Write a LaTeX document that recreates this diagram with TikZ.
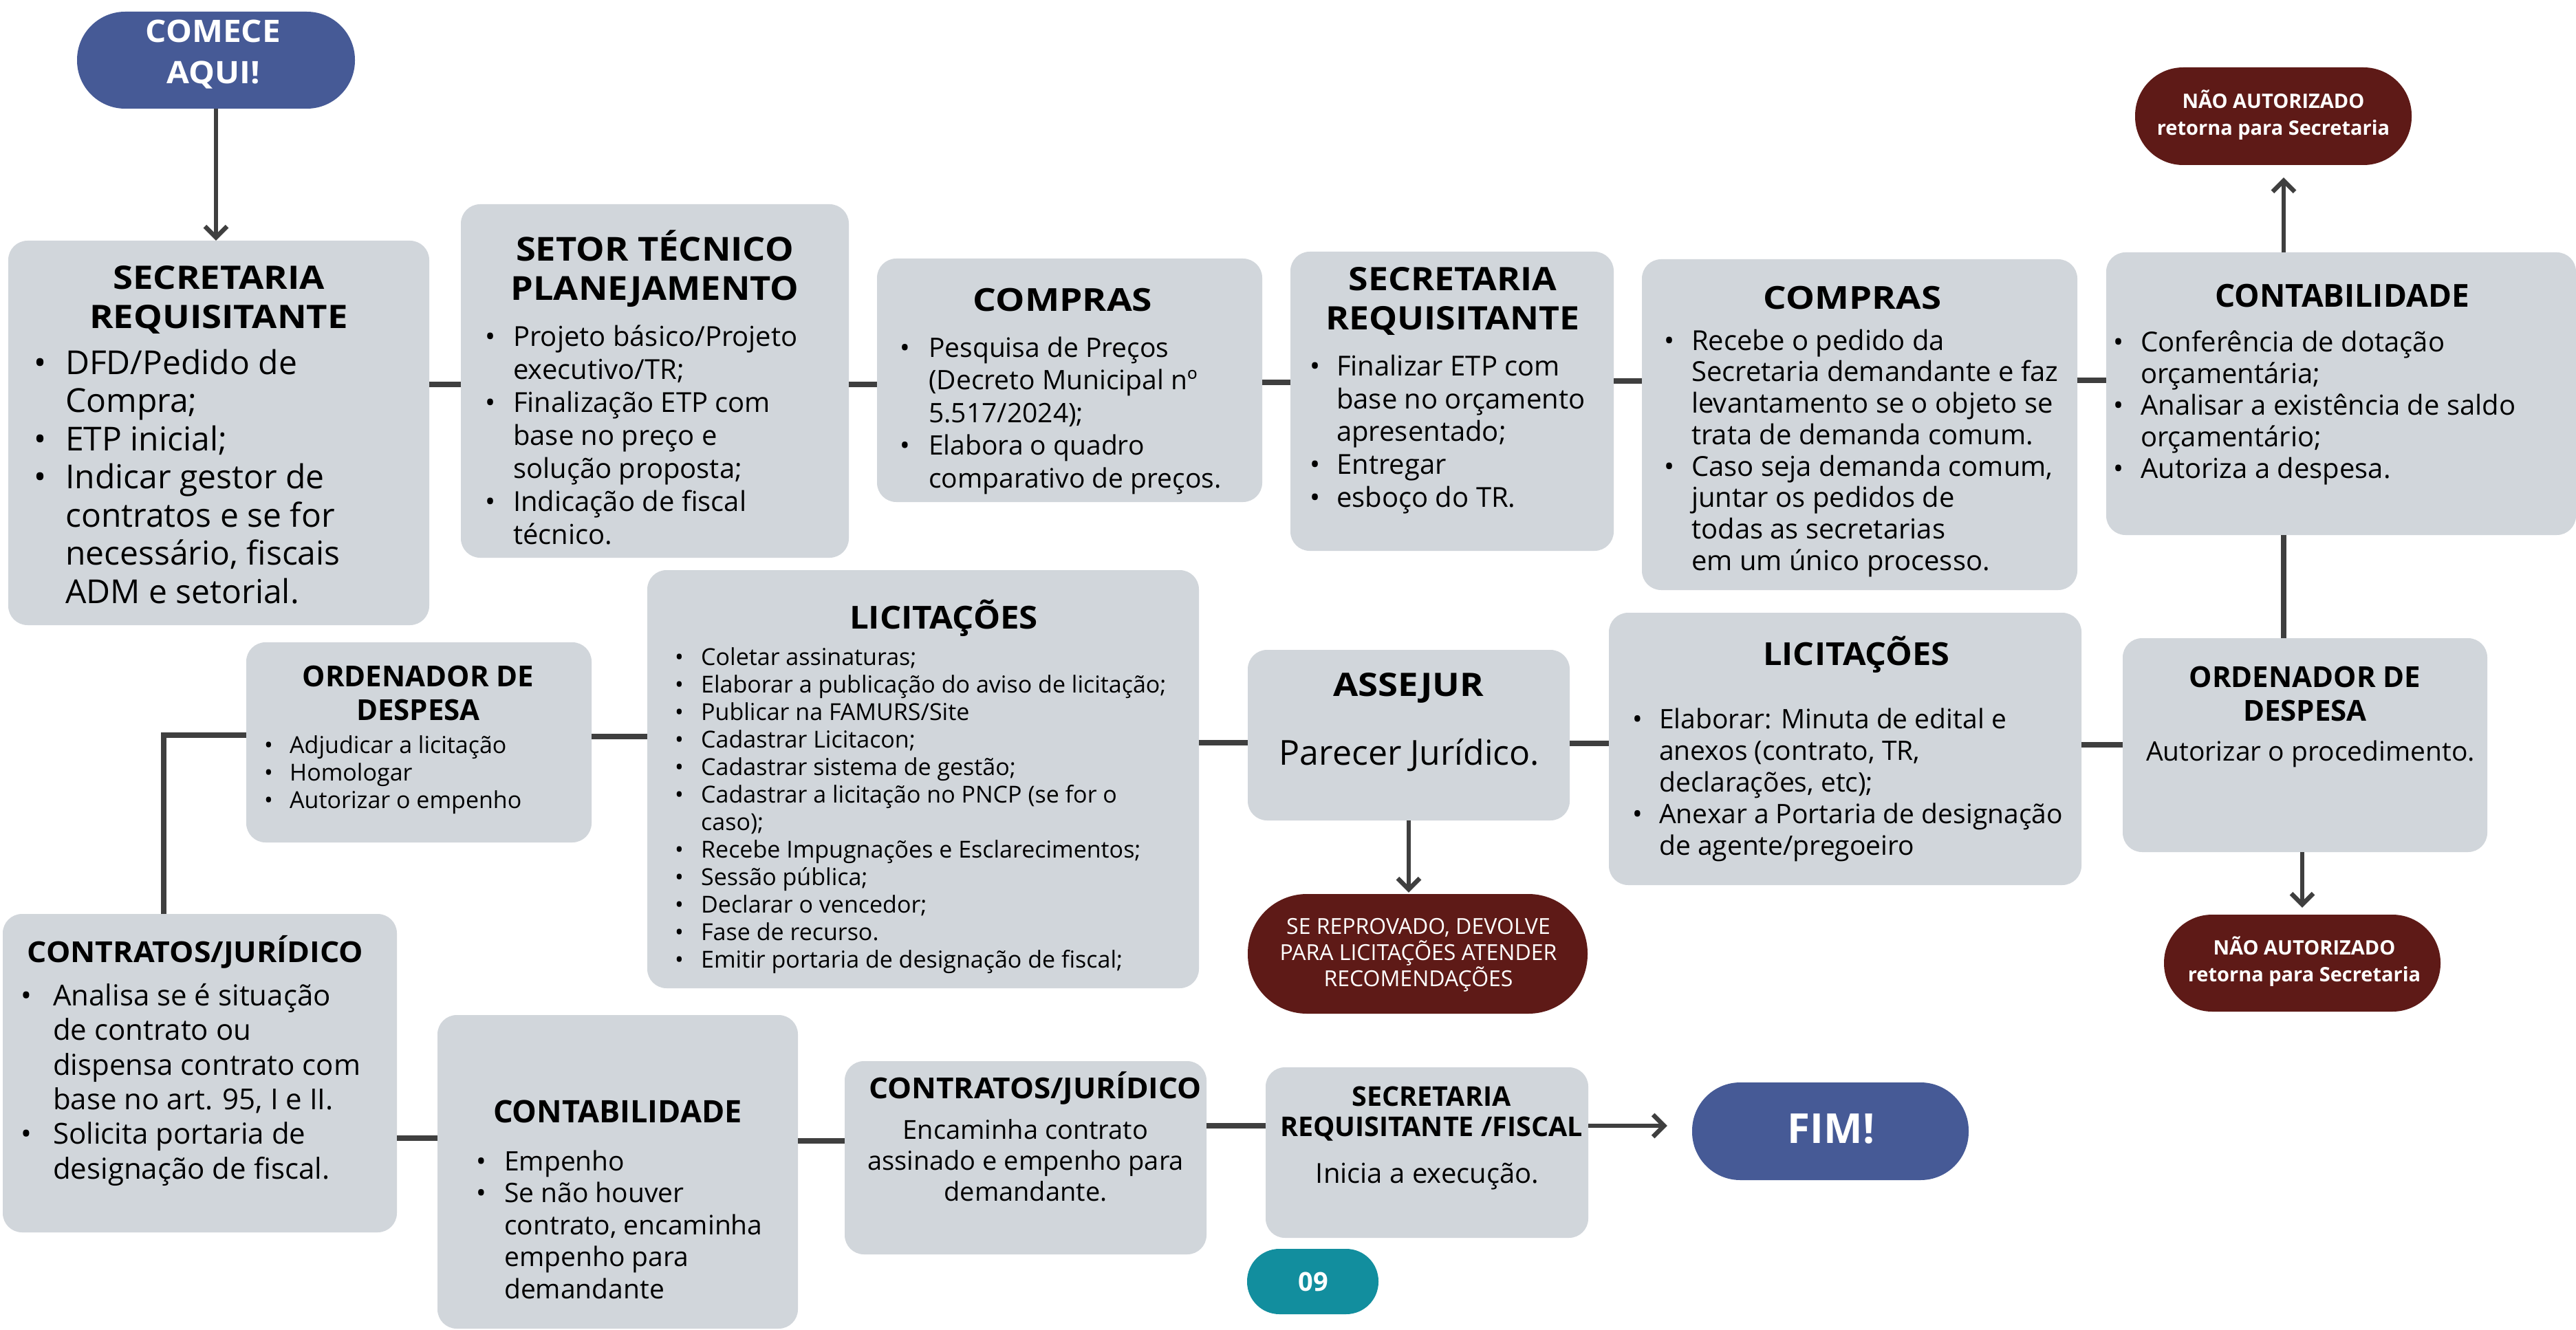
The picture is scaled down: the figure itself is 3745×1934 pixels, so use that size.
\documentclass[tikz,border=0pt]{standalone}
\usepackage{fontspec}
\setmainfont{Open Sans}
\usetikzlibrary{arrows.meta,calc}
\definecolor{boxg}{HTML}{D1D6DB}
\definecolor{pblue}{HTML}{465A96}
\definecolor{pred}{HTML}{5E1A17}
\definecolor{pteal}{HTML}{128E9E}
\definecolor{lin}{HTML}{3F3F3F}
\newlength\bw
\newcommand\fs[2]{\fontsize{#1pt}{#2pt}\selectfont}
\newcommand\bst[1]{\bfseries\addfontfeatures{FakeStretch=#1}}
\newcommand\tsu{\rule{0pt}{1.2em}}
\newcommand\bu{\makebox[\bw][l]{•}}
\newcommand\ct{\hspace*{\bw}}
\tikzset{
 box/.style={fill=boxg, rounded corners=28pt, inner sep=0pt, draw=none},
 con/.style={draw=lin, line width=8pt},
 arr/.style={draw=lin, line width=6.5pt, -{Straight Barb[length=16pt,width=32pt]}},
 tl/.style={anchor=north west, inner sep=0pt, align=left},
 tc/.style={anchor=north, inner sep=0pt, align=center},
}
\begin{document}
\begin{tikzpicture}[x=1pt,y=-1pt]
\useasboundingbox[fill=white] (0,0) rectangle (3745,1934);
% ---------- boxes ----------
\node[box, minimum width=612pt, minimum height=559pt] (b1) at (318,629.5) {};
\node[box, minimum width=564pt, minimum height=514pt] (b2) at (952,554) {};
\node[box, minimum width=560pt, minimum height=354pt] (b3) at (1555,553) {};
\node[box, minimum width=470pt, minimum height=435pt] (b4) at (2111,583.5) {};
\node[box, minimum width=633pt, minimum height=481pt] (b5) at (2703.5,617.5) {};
\node[box, minimum width=683pt, minimum height=411pt] (b6) at (3403.5,572.5) {};
\node[box, minimum width=530pt, minimum height=311pt] (b8) at (3351,1083.5) {};
\node[box, minimum width=687pt, minimum height=396pt] (b9) at (2682.5,1089) {};
\node[box, minimum width=468pt, minimum height=248pt] (b10) at (2048,1069) {};
\node[box, minimum width=802pt, minimum height=608pt] (b11) at (1342,1133) {};
\node[box, minimum width=502pt, minimum height=291pt] (b12) at (609,1079.5) {};
\node[box, minimum width=573pt, minimum height=463pt] (b13) at (290.5,1560.5) {};
\node[box, minimum width=524pt, minimum height=456pt] (b14) at (898,1704) {};
\node[box, minimum width=526pt, minimum height=281pt] (b15) at (1491,1683.5) {};
\node[box, minimum width=469pt, minimum height=248pt] (b16) at (2074.5,1676) {};
% ---------- pills ----------
\node[fill=pblue, rounded corners=70pt, minimum width=404pt, minimum height=141pt, inner sep=0pt] (n0) at (314,87.5) {};
\node[fill=pred, rounded corners=70pt, minimum width=402pt, minimum height=142pt, inner sep=0pt] (n1) at (3305,169) {};
\node[fill=pred, rounded corners=70pt, minimum width=402pt, minimum height=141pt, inner sep=0pt] (n5) at (3347,1400.5) {};
\node[fill=pred, rounded corners=86pt, minimum width=494pt, minimum height=174pt, inner sep=0pt] (n2) at (2061,1387) {};
\node[fill=pblue, rounded corners=70pt, minimum width=402pt, minimum height=142pt, inner sep=0pt] (n3) at (2661,1645) {};
\node[fill=pteal, rounded corners=47pt, minimum width=191pt, minimum height=95pt, inner sep=0pt] (n4) at (1908.5,1863.5) {};
% ---------- connectors ----------
\coordinate (y1) at (0,559);
\coordinate (y3) at (0,556);
\coordinate (y4) at (0,554);
\coordinate (y5) at (0,553);
\coordinate (vx1) at (3320,0);
\coordinate (y8) at (0,1083);
\coordinate (y9) at (0,1081);
\coordinate (y10) at (0,1080);
\coordinate (y11) at (0,1071);
\coordinate (e1) at (238,1069);
\coordinate (y13) at (0,1655);
\coordinate (y14) at (0,1659);
\coordinate (y15) at (0,1637);
\draw[con] (b1.east |- y1) -- (b2.west |- y1);
\draw[con] (b2.east |- y1) -- (b3.west |- y1);
\draw[con] (b3.east |- y3) -- (b4.west |- y3);
\draw[con] (b4.east |- y4) -- (b5.west |- y4);
\draw[con] (b5.east |- y5) -- (b6.west |- y5);
\draw[con] (vx1 |- b6.south) -- (vx1 |- b8.north);
\draw[con] (b8.west |- y8) -- (b9.east |- y8);
\draw[con] (b9.west |- y9) -- (b10.east |- y9);
\draw[con] (b10.west |- y10) -- (b11.east |- y10);
\draw[con] (b11.west |- y11) -- (b12.east |- y11);
\draw[con] (b12.west |- e1) -- (e1) -- (e1 |- b13.north);
\draw[con] (b13.east |- y13) -- (b14.west |- y13);
\draw[con] (b14.east |- y14) -- (b15.west |- y14);
\draw[con] (b15.east |- y15) -- (b16.west |- y15);
\draw[arr, shorten >=36pt] (b16.east |- y15) -- (n3.west |- y15);
\draw[arr] (n0.south) -- (n0.south |- b1.north);
\draw[arr, shorten >=18pt] (vx1 |- b6.north) -- (vx1 |- n1.south);
\draw[arr, shorten >=10pt] (n5.north |- b8.south) -- (n5.north);
\draw[arr, shorten >=2pt] (b10.south) -- (b10.south |- n2.north);
% ---------- texts ----------
% start
\node[tc, text=white, font={\fs{45}{60}\bst{1.06}}] (tn0) at (310,{61-1.2*45}) {\tsu COMECE\\AQUI!};
% b1
\node[tc, font={\fs{47}{57}\bst{1.12}}] (t1a) at (318,{420-1.2*47}) {\tsu SECRETARIA\\REQUISITANTE};
\node[tl, font={\fs{48}{55.5}\setlength\bw{46pt}}] (t1b) at (49,{544-1.2*48}) {\tsu\bu DFD/Pedido de\\\ct Compra;\\\bu ETP inicial;\\\bu Indicar gestor de\\\ct contratos e se for\\\ct necessário, fiscais\\\ct ADM e setorial.};
% b2
\node[tc, font={\fs{48}{57}\bst{1.09}}] (t2a) at (952,{379-1.2*48}) {\tsu SETOR TÉCNICO\\PLANEJAMENTO};
\node[tl, font={\fs{40}{48}\setlength\bw{41pt}}] (t2b) at (705,{503-1.2*40}) {\tsu\bu Projeto básico/Projeto\\\ct executivo/TR;\\\bu Finalização ETP com\\\ct base no preço e\\\ct solução proposta;\\\bu Indicação de fiscal\\\ct técnico.};
% b3
\node[tc, font={\fs{46}{57}\bst{1.16}}] (t3a) at (1545,{452-1.2*46}) {\tsu COMPRAS};
\node[tl, font={\fs{39}{47.5}\setlength\bw{42pt}}] (t3b) at (1308,{519-1.2*39}) {\tsu\bu Pesquisa de Preços\\\ct (Decreto Municipal nº\\\ct 5.517/2024);\\\bu Elabora o quadro\\\ct comparativo de preços.};
% b4
\node[tc, font={\fs{47}{57}\bst{1.10}}] (t4a) at (2112,{422-1.2*47}) {\tsu SECRETARIA\\REQUISITANTE};
\node[tl, font={\fs{40}{47.8}\setlength\bw{39pt}}] (t4b) at (1904,{546-1.2*40}) {\tsu\bu Finalizar ETP com\\\ct base no orçamento\\\ct apresentado;\\\bu Entregar\\\bu esboço do TR.};
% b5
\node[tc, font={\fs{46}{57}\bst{1.15}}] (t5a) at (2693,{449-1.2*46}) {\tsu COMPRAS};
\node[tl, font={\fs{40}{45.7}\setlength\bw{40pt}}] (t5b) at (2419,{509-1.2*40}) {\tsu\bu Recebe o pedido da\\\ct Secretaria demandante e faz\\\ct levantamento se o objeto se\\\ct trata de demanda comum.\\\bu Caso seja demanda comum,\\\ct juntar os pedidos de\\\ct todas as secretarias\\\ct em um único processo.};
% b6
\node[tc, font={\fs{46}{57}\bfseries}] (t6a) at (3405,{446-1.2*46}) {\tsu CONTABILIDADE};
\node[tl, font={\fs{40}{46}\setlength\bw{40pt}}] (t6b) at (3072,{511-1.2*40}) {\tsu\bu Conferência de dotação\\\ct orçamentária;\\\bu Analisar a existência de saldo\\\ct orçamentário;\\\bu Autoriza a despesa.};
% n1
\node[tc, text=white, font={\fs{29}{39}\bfseries}] (tn1) at (3305,{157-1.2*29}) {\tsu NÃO AUTORIZADO\\retorna para Secretaria};
% b8
\node[tc, font={\fs{42}{49}\bfseries}] (t8a) at (3351,{999-1.2*42}) {\tsu ORDENADOR DE\\DESPESA};
\node[tc, font={\fs{39}{47}}] (t8b) at (3359,{1106-1.2*39}) {\tsu Autorizar o procedimento.};
% n5
\node[tc, text=white, font={\fs{29}{39}\bfseries}] (tn5) at (3350,{1388-1.2*29}) {\tsu NÃO AUTORIZADO\\retorna para Secretaria};
% b9
\node[tc, font={\fs{46}{57}\bst{1.06}}] (t9a) at (2699,{967-1.2*46}) {\tsu LICITAÇÕES};
\node[tl, font={\fs{39}{46}\setlength\bw{39pt}}] (t9b) at (2373,{1059-1.2*39}) {\tsu\bu Elaborar: Minuta de edital e\\\ct anexos (contrato, TR,\\\ct declarações, etc);\\\bu Anexar a Portaria de designação\\\ct de agente/pregoeiro};
% b10
\node[tc, font={\fs{47}{57}\bst{1.12}}] (t10a) at (2048,{1012-1.2*47}) {\tsu ASSEJUR};
\node[tc, font={\fs{50}{57}}] (t10b) at (2049,{1112-1.2*50}) {\tsu Parecer Jurídico.};
% n2
\node[tc, text=white, font={\fs{32}{38}}] (tn2) at (2062,{1358-1.2*32}) {\tsu SE REPROVADO, DEVOLVE\\PARA LICITAÇÕES ATENDER\\RECOMENDAÇÕES};
% b11
\node[tc, font={\fs{46}{57}\bst{1.07}}] (t11a) at (1372,{914-1.2*46}) {\tsu LICITAÇÕES};
\node[tl, font={\fs{34}{40}\setlength\bw{38pt}}] (t11b) at (981,{967-1.2*34}) {\tsu\bu Coletar assinaturas;\\\bu Elaborar a publicação do aviso de licitação;\\\bu Publicar na FAMURS/Site\\\bu Cadastrar Licitacon;\\\bu Cadastrar sistema de gestão;\\\bu Cadastrar a licitação no PNCP (se for o\\\ct caso);\\\bu Recebe Impugnações e Esclarecimentos;\\\bu Sessão pública;\\\bu Declarar o vencedor;\\\bu Fase de recurso.\\\bu Emitir portaria de designação de fiscal;};
% b12
\node[tc, font={\fs{42}{49}\bfseries}] (t12a) at (608,{998-1.2*42}) {\tsu ORDENADOR DE\\DESPESA};
\node[tl, font={\fs{34}{40}\setlength\bw{37pt}}] (t12b) at (384,{1095-1.2*34}) {\tsu\bu Adjudicar a licitação\\\bu Homologar\\\bu Autorizar o empenho};
% b13
\node[tc, font={\fs{42}{50}\bst{1.06}}] (t13a) at (284,{1399-1.2*42}) {\tsu CONTRATOS/JURÍDICO};
\node[tl, font={\fs{42}{50.4}\setlength\bw{47pt}}] (t13b) at (30,{1462-1.2*42}) {\tsu\bu Analisa se é situação\\\ct de contrato ou\\\ct dispensa contrato com\\\ct base no art. 95, I e II.\\\bu Solicita portaria de\\\ct designação de fiscal.};
% b14
\node[tc, font={\fs{45}{57}\bfseries}] (t14a) at (898,{1632-1.2*45}) {\tsu CONTABILIDADE};
\node[tl, font={\fs{39}{46.5}\setlength\bw{41pt}}] (t14b) at (692,{1702-1.2*39}) {\tsu\bu Empenho\\\bu Se não houver\\\ct contrato, encaminha\\\ct empenho para\\\ct demandante};
% b15
\node[tc, font={\fs{42}{50}\bst{1.05}}] (t15a) at (1505,{1597-1.2*42}) {\tsu CONTRATOS/JURÍDICO};
\node[tc, font={\fs{38}{45}}] (t15b) at (1491,{1656-1.2*38}) {\tsu Encaminha contrato\\assinado e empenho para\\demandante.};
% b16
\node[tc, font={\fs{39.5}{44}\bfseries}] (t16a) at (2081,{1608-1.2*39.5}) {\tsu SECRETARIA\\REQUISITANTE /FISCAL};
\node[tc, font={\fs{40}{47}}] (t16b) at (2075,{1720-1.2*40}) {\tsu Inicia a execução.};
% n3, n4
\node[tc, text=white, font={\fs{60}{70}\bfseries}] (tn3) at (2662,{1662-1.2*60}) {\tsu FIM!};
\node[tc, text=white, font={\fs{38}{45}\bfseries}] (tn4) at (1909,{1877-1.2*38}) {\tsu 09};
\end{tikzpicture}
\end{document}
